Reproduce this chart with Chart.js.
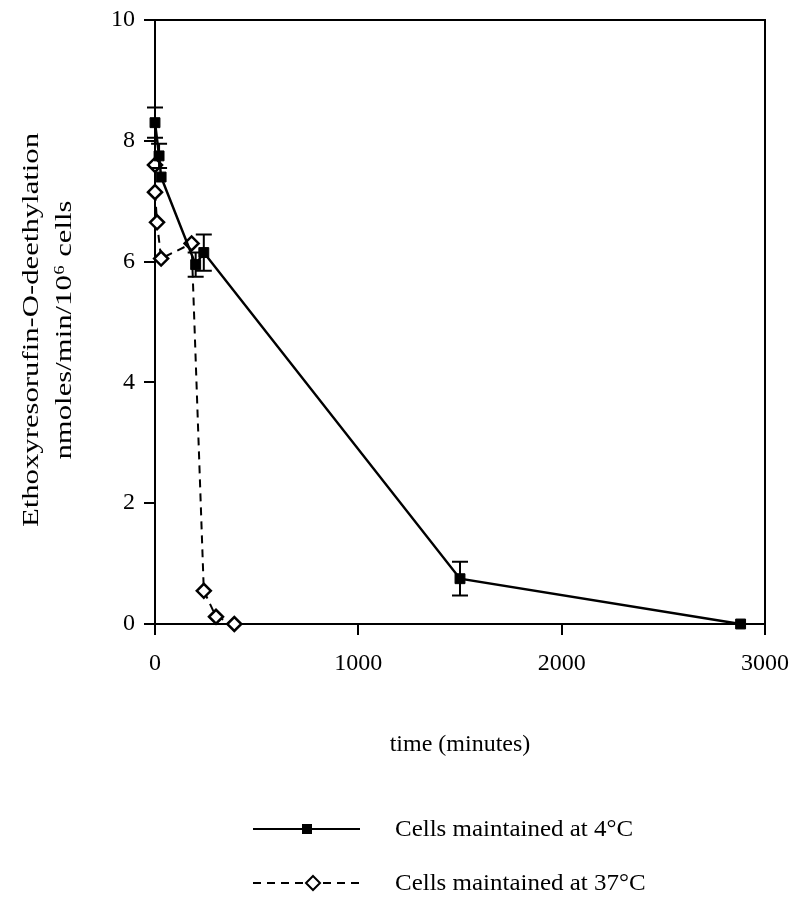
<!DOCTYPE html>
<html>
<head>
<meta charset="utf-8">
<title>EROD activity</title>
<script src="https://cdn.jsdelivr.net/npm/chart.js@4.4.0/dist/chart.umd.min.js"></script>
<style>
  body { margin: 0; background: #fff; }
  #grafica { display: block; }
</style>
</head>
<body>
<canvas id="grafica" width="790" height="902"></canvas>
<script>
// ---------------------------- cells kept at 4°C
const time4 = [0, 20, 30, 200, 240, 1500, 2880];
const erod4 = [8.3, 7.75, 7.4, 5.95, 6.15, 0.75, 0];
const err4 = [0.25, 0.2, 0, 0.2, 0.3, 0.28, 0];

// ---------------------------- cells kept at 37°C
const time37 = [0, 0, 10, 30, 180, 240, 300, 390];
const erod37 = [7.6, 7.15, 6.65, 6.05, 6.3, 0.55, 0.12, 0];

const xTicks = [0, 1000, 2000, 3000];
const yTicks = [0, 2, 4, 6, 8, 10];

const yTitle = ['Ethoxyresorufin-O-deethylation', 'nmoles/min/10⁶ cells'];
const legendLabels = ['Cells maintained at 4°C', 'Cells maintained at 37°C'];

const serif = 'Liberation Serif';

function points(xs, ys) {
  return xs.map((x, i) => ({ x: x, y: ys[i] }));
}

// error bars for the 4°C series
const errorBars = {
  id: 'errorBars',
  afterDatasetsDraw(chart) {
    const ctx = chart.ctx;
    const xs = chart.scales.x, ys = chart.scales.y;
    ctx.save();
    ctx.strokeStyle = '#000';
    ctx.lineWidth = 2;
    time4.forEach((t, i) => {
      if (!err4[i]) return;
      const px = xs.getPixelForValue(t);
      const top = ys.getPixelForValue(erod4[i] + err4[i]);
      const bot = ys.getPixelForValue(erod4[i] - err4[i]);
      ctx.beginPath();
      ctx.moveTo(px, top); ctx.lineTo(px, bot);
      ctx.moveTo(px - 8, top); ctx.lineTo(px + 8, top);
      ctx.moveTo(px - 8, bot); ctx.lineTo(px + 8, bot);
      ctx.stroke();
    });
    ctx.restore();
  }
};

// closes the plot box on the top and right
const frame = {
  id: 'frame',
  beforeDatasetsDraw(chart) {
    const { ctx, chartArea: a } = chart;
    ctx.save();
    ctx.strokeStyle = '#000';
    ctx.lineWidth = 2;
    ctx.beginPath();
    ctx.moveTo(a.left, a.top);
    ctx.lineTo(a.right, a.top);
    ctx.lineTo(a.right, a.bottom);
    ctx.stroke();
    ctx.restore();
  }
};

// wide two-line title on the left, rotated
const sideTitle = {
  id: 'sideTitle',
  afterDraw(chart) {
    const ctx = chart.ctx;
    const cols = [32, 65];
    ctx.save();
    ctx.fillStyle = '#000';
    ctx.font = '24px "' + serif + '"';
    ctx.textAlign = 'center';
    ctx.textBaseline = 'middle';
    yTitle.forEach((line, i) => {
      ctx.save();
      ctx.translate(cols[i], 330);
      ctx.rotate(-Math.PI / 2);
      ctx.scale(1.28, 1);
      ctx.fillText(line, 0, 0);
      ctx.restore();
    });
    ctx.restore();
  }
};

// legend under the axis title
const keyBox = {
  id: 'keyBox',
  afterDraw(chart) {
    const ctx = chart.ctx;
    const rows = [829, 883];
    ctx.save();
    ctx.strokeStyle = '#000';
    ctx.lineWidth = 2;
    ctx.fillStyle = '#000';
    ctx.font = '24px "' + serif + '"';
    ctx.textBaseline = 'middle';
    rows.forEach((y, i) => {
      ctx.beginPath();
      ctx.setLineDash(i === 0 ? [] : [8, 6]);
      ctx.moveTo(253, y);
      ctx.lineTo(360, y);
      ctx.stroke();
      ctx.setLineDash([]);
      if (i === 0) {
        ctx.fillRect(302, y - 5, 10, 10);
      } else {
        ctx.fillStyle = '#fff';
        ctx.beginPath();
        ctx.moveTo(313, y - 7); ctx.lineTo(320, y); ctx.lineTo(313, y + 7); ctx.lineTo(306, y);
        ctx.closePath();
        ctx.fill();
        ctx.stroke();
        ctx.fillStyle = '#000';
      }
      ctx.save();
      ctx.translate(395, y + 1);
      ctx.scale(1.04, 1);
      ctx.fillText(legendLabels[i], 0, 0);
      ctx.restore();
    });
    ctx.restore();
  }
};

const graph = document.querySelector('#grafica');

const data = {
  datasets: [{
    label: legendLabels[0],
    data: points(time4, erod4),
    borderColor: '#000',
    borderWidth: 2.5,
    pointStyle: 'rect',
    pointRadius: 7,
    pointBackgroundColor: '#000',
    pointBorderColor: '#000',
    pointBorderWidth: 1,
    tension: 0
  }, {
    label: legendLabels[1],
    data: points(time37, erod37),
    borderColor: '#000',
    borderWidth: 2,
    borderDash: [8, 6],
    pointStyle: 'rectRot',
    pointRadius: 7,
    pointBackgroundColor: '#fff',
    pointBorderColor: '#000',
    pointBorderWidth: 2.5,
    tension: 0
  }]
};

const config = {
  type: 'line',
  data: data,
  options: {
    responsive: false,
    animation: false,
    devicePixelRatio: 1,
    clip: false,
    layout: { padding: { left: 0, top: 20, right: 25, bottom: 143 } },
    plugins: {
      legend: { display: false },
      tooltip: { enabled: false }
    },
    scales: {
      x: {
        type: 'linear',
        min: 0,
        max: 3000,
        afterFit: (s) => { s.height = 135; s.paddingLeft = 0; s.paddingRight = 0; },
        afterBuildTicks: (s) => { s.ticks = xTicks.map(v => ({ value: v })); },
        border: { display: true, color: '#000', width: 2 },
        grid: { drawOnChartArea: false, color: '#000', lineWidth: 2, tickLength: 11 },
        ticks: {
          color: '#000',
          padding: 14,
          maxRotation: 0,
          callback: (v) => String(v),
          font: { family: serif, size: 24 }
        },
        title: {
          display: true,
          text: 'time (minutes)',
          color: '#000',
          padding: { top: 0, bottom: 0 },
          font: { family: serif, size: 24 }
        }
      },
      y: {
        min: 0,
        max: 10,
        afterFit: (s) => { s.width = 155; s.paddingTop = 0; s.paddingBottom = 0; },
        afterBuildTicks: (s) => { s.ticks = yTicks.map(v => ({ value: v })); },
        border: { display: true, color: '#000', width: 2 },
        grid: { drawOnChartArea: false, color: '#000', lineWidth: 2, tickLength: 11 },
        ticks: {
          color: '#000',
          padding: 9,
          callback: (v) => String(v),
          font: { family: serif, size: 24 }
        }
      }
    }
  },
  plugins: [frame, errorBars, sideTitle, keyBox]
};

new Chart(graph, config);
</script>
</body>
</html>
